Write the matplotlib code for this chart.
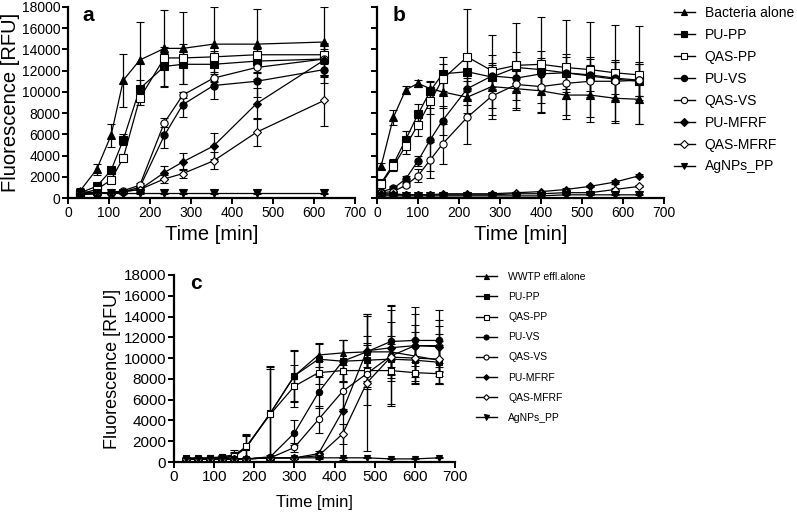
import numpy as np
import matplotlib
matplotlib.use("Agg")
import matplotlib.pyplot as plt

plt.rcParams['font.family'] = ['Liberation Sans', 'DejaVu Sans']

# ---- data ----
labels_ab = ['Bacteria alone', 'PU-PP', 'QAS-PP', 'PU-VS', 'QAS-VS', 'PU-MFRF', 'QAS-MFRF', 'AgNPs_PP']
labels_c = ['WWTP effl.alone', 'PU-PP', 'QAS-PP', 'PU-VS', 'QAS-VS', 'PU-MFRF', 'QAS-MFRF', 'AgNPs_PP']

# panel a
ta = [30, 70, 105, 135, 175, 235, 280, 355, 460, 625]
a_bact = [700, 2700, 5900, 11100, 13000, 14100, 14100, 14500, 14500, 14700]
a_bact_e = [200, 500, 1100, 2500, 3600, 3600, 3400, 3500, 3300, 3300]
a_pupp = [500, 1100, 2600, 5500, 10300, 12400, 12600, 12600, 12900, 13100]
a_pupp_e = [100, 200, 300, 500, 800, 1800, 1900, 1300, 1100, 1500]
a_qaspp = [400, 800, 1700, 3800, 9400, 13200, 13200, 13300, 13500, 13500]
a_qaspp_e = [100, 100, 200, 300, 600, 500, 400, 400, 400, 500]
a_puvs = [300, 400, 500, 600, 1000, 5900, 8800, 10600, 11000, 12100]
a_puvs_e = [100, 100, 100, 100, 200, 1200, 1200, 1300, 1500, 1300]
a_qasvs = [500, 500, 500, 700, 1200, 7100, 9700, 11300, 12300, 13100]
a_qasvs_e = [100, 100, 100, 100, 200, 400, 300, 400, 400, 500]
a_pumfrf = [400, 400, 500, 600, 800, 2400, 3400, 4900, 8900, 13000]
a_pumfrf_e = [100, 100, 100, 100, 200, 600, 800, 1200, 1500, 1500]
a_qasmfrf = [600, 500, 500, 600, 800, 1800, 2300, 3500, 6200, 9200]
a_qasmfrf_e = [100, 100, 100, 100, 200, 400, 400, 800, 1300, 2400]
a_agnp = [450, 450, 450, 450, 450, 450, 450, 450, 450, 450]
a_agnp_e = [50, 50, 50, 50, 50, 50, 50, 50, 50, 50]

# panel b
tb = [10, 40, 70, 100, 130, 160, 220, 280, 340, 400, 460, 520, 580, 640]
b_bact = [3000, 7600, 10200, 10800, 10300, 10000, 9500, 10500, 10300, 10100, 9700, 9700, 9400, 9300]
b_bact_e = [300, 700, 400, 300, 600, 1500, 1500, 2000, 2000, 2100, 2300, 2500, 2300, 2300]
b_pupp = [1400, 3200, 5500, 7900, 10100, 11700, 11900, 11400, 12300, 12100, 11800, 11500, 11200, 11000]
b_pupp_e = [200, 500, 800, 1000, 900, 1600, 1500, 4000, 1500, 1800, 1800, 1800, 1800, 1800]
b_qaspp = [1300, 3000, 4900, 6900, 9100, 11200, 13300, 12000, 12500, 12600, 12300, 12100, 11800, 11600]
b_qaspp_e = [200, 500, 800, 1100, 1200, 1400, 4500, 1500, 4000, 4500, 4500, 4500, 4500, 4600]
b_puvs = [600, 900, 1800, 3500, 5500, 7300, 10300, 11500, 11300, 11700, 11800, 11600, 11300, 11100]
b_puvs_e = [100, 200, 300, 500, 3000, 1400, 1000, 1200, 1200, 1500, 1500, 1500, 1500, 1500]
b_qasvs = [500, 600, 1200, 2100, 3600, 5100, 7600, 9600, 10700, 10500, 10800, 11000, 11000, 11100]
b_qasvs_e = [100, 100, 200, 600, 1700, 1900, 2500, 1800, 1500, 1500, 1500, 1500, 1800, 1500]
b_pumfrf = [400, 400, 300, 300, 300, 400, 400, 400, 500, 600, 800, 1100, 1500, 2100]
b_pumfrf_e = [50, 50, 50, 50, 50, 50, 50, 50, 100, 100, 100, 100, 150, 150]
b_qasmfrf = [300, 300, 300, 300, 300, 300, 300, 300, 400, 400, 500, 500, 800, 1100]
b_qasmfrf_e = [50, 50, 50, 50, 50, 50, 50, 50, 50, 50, 100, 100, 100, 100]
b_agnp = [200, 200, 200, 200, 200, 200, 200, 200, 200, 200, 300, 300, 300, 300]
b_agnp_e = [50, 50, 50, 50, 50, 50, 50, 50, 50, 50, 50, 50, 50, 50]

# panel c
tc = [30, 60, 90, 120, 150, 180, 240, 300, 360, 420, 480, 540, 600, 660]
c_wwtp = [300, 300, 300, 400, 500, 1400, 4700, 8300, 10300, 10500, 10600, 10600, 10200, 9800]
c_wwtp_e = [100, 100, 100, 200, 400, 1200, 4400, 2500, 1200, 1200, 1500, 1500, 1500, 1500]
c_pupp = [400, 400, 400, 500, 700, 1400, 4700, 8300, 9900, 9700, 9800, 9900, 9800, 9600]
c_pupp_e = [100, 100, 100, 200, 500, 1300, 4500, 2400, 1500, 2000, 1500, 1500, 2000, 2000]
c_qaspp = [300, 300, 400, 400, 600, 1500, 4600, 7300, 8600, 8800, 8800, 8800, 8600, 8500]
c_qaspp_e = [100, 100, 100, 200, 400, 1000, 4400, 2000, 1100, 1000, 1000, 1000, 1000, 1000]
c_puvs = [300, 300, 300, 300, 300, 300, 500, 2800, 6700, 9700, 10600, 11600, 11700, 11700]
c_puvs_e = [100, 100, 100, 100, 100, 100, 200, 1200, 1500, 2000, 3600, 3500, 3200, 2900]
c_qasvs = [300, 300, 300, 300, 300, 300, 400, 1400, 4100, 6800, 8500, 10200, 11200, 11200]
c_qasvs_e = [100, 100, 100, 100, 100, 100, 100, 400, 1300, 1700, 3000, 4800, 3000, 2500]
c_pumfrf = [300, 300, 300, 300, 300, 300, 400, 400, 800, 4900, 10700, 11000, 11200, 11100]
c_pumfrf_e = [100, 100, 100, 100, 100, 100, 100, 100, 300, 4700, 3500, 2500, 2000, 2000]
c_qasmfrf = [300, 300, 300, 300, 300, 300, 400, 400, 600, 2700, 7600, 10100, 10000, 9900]
c_qasmfrf_e = [100, 100, 100, 100, 100, 100, 100, 100, 300, 1000, 6500, 4500, 2500, 2400]
c_agnp = [300, 300, 300, 300, 300, 300, 400, 400, 400, 400, 400, 300, 300, 400]
c_agnp_e = [50, 50, 50, 50, 50, 50, 50, 50, 50, 50, 50, 50, 50, 50]

# marker, filled?
styles = [('^', True), ('s', True), ('s', False), ('o', True), ('o', False),
          ('D', True), ('D', False), ('v', True)]


def draw_panel(ax, t, series, errs, labels, ms, fs_tick):
    for (y, e, lab, (m, filled)) in zip(series, errs, labels, styles):
        size = ms * 0.8 if m == 'D' else ms
        ax.errorbar(t, y, yerr=e, color='black', lw=0.9, elinewidth=0.9,
                    capsize=2.6, capthick=0.9, marker=m, ms=size,
                    mfc='black' if filled else 'white', mec='black', mew=0.8,
                    label=lab)
    ax.set_xlim(0, 700)
    ax.set_ylim(0, 18000)
    ax.set_xticks(np.arange(0, 701, 100))
    ax.set_yticks(np.arange(0, 18001, 2000))
    for s in ['top', 'right']:
        ax.spines[s].set_visible(False)
    for s in ['left', 'bottom']:
        ax.spines[s].set_linewidth(1.6)
    ax.tick_params(direction='out', length=4, width=1.4, pad=1.5, labelsize=fs_tick)
    for lbl in ax.get_xticklabels() + ax.get_yticklabels():
        lbl.set_clip_on(False)


fig = plt.figure(figsize=(7.97, 5.16), dpi=100)
ax_a = fig.add_axes([68 / 797, 1 - 198 / 516, 287 / 797, 191 / 516])
ax_b = fig.add_axes([377 / 797, 1 - 198 / 516, 287 / 797, 191 / 516])
ax_c = fig.add_axes([174 / 797, 1 - 462 / 516, 281 / 797, 187 / 516])

draw_panel(ax_a, ta,
           [a_bact, a_pupp, a_qaspp, a_puvs, a_qasvs, a_pumfrf, a_qasmfrf, a_agnp],
           [a_bact_e, a_pupp_e, a_qaspp_e, a_puvs_e, a_qasvs_e, a_pumfrf_e, a_qasmfrf_e, a_agnp_e],
           labels_ab, 5.2, 10)
draw_panel(ax_b, tb,
           [b_bact, b_pupp, b_qaspp, b_puvs, b_qasvs, b_pumfrf, b_qasmfrf, b_agnp],
           [b_bact_e, b_pupp_e, b_qaspp_e, b_puvs_e, b_qasvs_e, b_pumfrf_e, b_qasmfrf_e, b_agnp_e],
           labels_ab, 5.2, 10)
draw_panel(ax_c, tc,
           [c_wwtp, c_pupp, c_qaspp, c_puvs, c_qasvs, c_pumfrf, c_qasmfrf, c_agnp],
           [c_wwtp_e, c_pupp_e, c_qaspp_e, c_puvs_e, c_qasvs_e, c_pumfrf_e, c_qasmfrf_e, c_agnp_e],
           labels_c, 4.6, 11)

ax_b.set_yticklabels([])

ax_a.set_ylabel('Fluorescence [RFU]', fontsize=14.5, labelpad=1)
ax_a.set_xlabel('Time [min]', fontsize=14.5, labelpad=4)
ax_b.set_xlabel('Time [min]', fontsize=14.5, labelpad=4)
ax_c.set_ylabel('Fluorescence [RFU]', fontsize=13, labelpad=2)
ax_c.set_xlabel('Time [min]', fontsize=12, labelpad=8)

ax_a.text(0.05, 0.955, 'a', transform=ax_a.transAxes, fontsize=15, fontweight='bold', va='center')
ax_b.text(0.056, 0.955, 'b', transform=ax_b.transAxes, fontsize=15, fontweight='bold', va='center')
ax_c.text(0.057, 0.955, 'c', transform=ax_c.transAxes, fontsize=15, fontweight='bold', va='center')

# legends (lines with markers, no error bars)
def legend_handles(labels, ms):
    hs = []
    for lab, (m, filled) in zip(labels, styles):
        size = ms * 0.8 if m == 'D' else ms
        h, = fig.gca().plot([], [], color='black', lw=1, marker=m, ms=size,
                            mfc='black' if filled else 'white', mec='black', mew=0.8, label=lab)
        hs.append(h)
    return hs

plt.sca(ax_a)
h_ab = legend_handles(labels_ab, 4.5)
fig.legend(handles=h_ab, loc='upper left', bbox_to_anchor=(674 / 797, 1 - 6 / 516),
           frameon=False, fontsize=10, handlelength=1.5, handletextpad=0.7,
           labelspacing=0.57, borderpad=0, borderaxespad=0)
plt.sca(ax_c)
h_c = legend_handles(labels_c, 3.6)
fig.legend(handles=h_c, loc='upper left', bbox_to_anchor=(476 / 797, 1 - 272 / 516),
           frameon=False, fontsize=7.5, handlelength=2.0, handletextpad=1.1,
           labelspacing=0.97, borderpad=0, borderaxespad=0)

fig.savefig('out.png', dpi=100)
